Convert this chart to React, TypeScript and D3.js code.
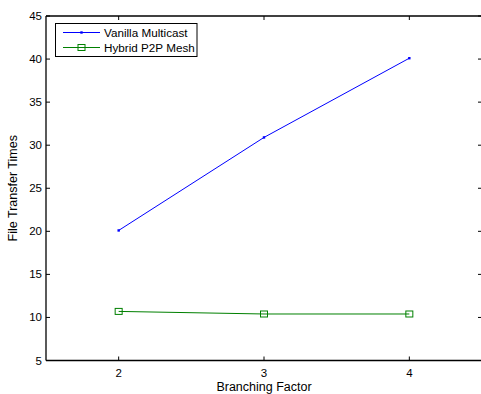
import React from 'react';
import * as d3 from 'd3';

const branching = [2, 3, 4];
const vanilla = [20.1, 30.9, 40.1];
const hybrid = [10.7, 10.4, 10.4];
const yTicks = [5, 10, 15, 20, 25, 30, 35, 40, 45];

const W = 481;
const H = 394;
const m = { left: 46, top: 16, right: 482, bottom: 360.5 };
const font = 'Liberation Sans, Arial, Helvetica, sans-serif';

export default function App() {
  const x = d3.scaleLinear().domain([1.5, 4.5]).range([m.left, m.right]);
  const y = d3.scaleLinear().domain([5, 45]).range([m.bottom, m.top]);

  const line = d3
    .line<number>()
    .x((d, i) => x(branching[i]))
    .y((d) => y(d));

  return (
    <svg
      width={W}
      height={H}
      style={{ position: 'absolute', left: 0, top: 0, background: '#fff' }}
      fontFamily={font}
    >
      <rect x={0} y={0} width={W} height={H} fill="#fff" />
      {/* axis box, right side falls just off the canvas */}
      <line x1={m.left} x2={m.right} y1={m.top} y2={m.top} stroke="#000" strokeWidth={1.3} />
      <line x1={m.left} x2={m.right} y1={m.bottom} y2={m.bottom} stroke="#000" strokeWidth={1.3} />
      <line x1={m.left} x2={m.left} y1={m.top} y2={m.bottom} stroke="#000" strokeWidth={1.3} />

      {/* x ticks */}
      {branching.map((b) => (
        <g key={'x' + b}>
          <line x1={x(b)} x2={x(b)} y1={m.bottom} y2={m.bottom - 4} stroke="#000" />
          <line x1={x(b)} x2={x(b)} y1={m.top} y2={m.top + 4} stroke="#000" />
          <text x={x(b)} y={m.bottom + 16} fontSize={11.5} textAnchor="middle" fill="#000">
            {b}
          </text>
        </g>
      ))}
      {/* y ticks */}
      {yTicks.map((t) => (
        <g key={'y' + t}>
          <line x1={m.left} x2={m.left + 4} y1={y(t)} y2={y(t)} stroke="#000" />
          <line x1={m.right - 4} x2={m.right} y1={y(t)} y2={y(t)} stroke="#000" />
          <text x={m.left - 4} y={y(t) + 4} fontSize={11.5} textAnchor="end" fill="#000">
            {t}
          </text>
        </g>
      ))}

      {/* series */}
      <path d={line(vanilla) || ''} fill="none" stroke="#0000ff" strokeWidth={1} />
      {vanilla.map((v, i) => (
        <rect key={'v' + i} x={x(branching[i]) - 1.2} y={y(v) - 1.2} width={2.4} height={2.4} fill="#0000ff" />
      ))}
      <path d={line(hybrid) || ''} fill="none" stroke="#008000" strokeWidth={1} />
      {hybrid.map((v, i) => (
        <rect key={'h' + i} x={x(branching[i]) - 3.5} y={y(v) - 3} width={7} height={6} fill="none" stroke="#008000" strokeWidth={1} />
      ))}

      {/* legend */}
      <rect x={55.5} y={23.5} width={141.5} height={33} fill="#fff" stroke="#000" strokeWidth={1} />
      <line x1={63} x2={100} y1={32.5} y2={32.5} stroke="#0000ff" />
      <rect x={80.3} y={31.3} width={2.4} height={2.4} fill="#0000ff" />
      <text x={104} y={36.5} fontSize={11.7} fill="#000">Vanilla Multicast</text>
      <line x1={63} x2={100} y1={47.5} y2={47.5} stroke="#008000" />
      <rect x={78} y={44.5} width={7} height={6} fill="none" stroke="#008000" />
      <text x={104} y={51.5} fontSize={11.7} fill="#000">Hybrid P2P Mesh</text>

      {/* axis labels */}
      <text x={x(3)} y={391} fontSize={12.5} textAnchor="middle" fill="#000">
        Branching Factor
      </text>
      <text
        transform={`translate(17, ${(m.top + m.bottom) / 2}) rotate(-90)`}
        fontSize={12.5}
        textAnchor="middle"
        fill="#000"
      >
        File Transfer Times
      </text>
    </svg>
  );
}
